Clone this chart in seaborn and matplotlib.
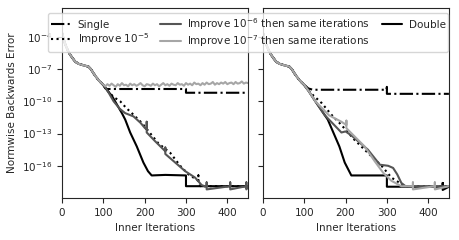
import numpy as np
import pandas as pd
import seaborn as sns
import matplotlib
matplotlib.use("Agg")
import matplotlib.pyplot as plt
from matplotlib.ticker import NullLocator

# shared start of every run (log10 of the error)
init_it = [0, 4, 8, 14, 20, 26, 32, 40, 48, 56, 64, 70, 76, 82, 88, 94, 100]
init_err = [-3.6, -4.2, -4.7, -5.25, -5.67, -6.0, -6.3, -6.5, -6.6, -6.68, -6.76,
            -7.0, -7.37, -7.7, -8.0, -8.25, -8.45]

labels = ["Single", "Improve $10^{-5}$", "Improve $10^{-6}$ then same iterations",
          "Improve $10^{-7}$ then same iterations", "Double"]

# left panel
l_single_it = [105, 110, 200, 300, 300, 450]
l_single_err = [-8.8, -8.85, -8.85, -8.85, -9.2, -9.2]

l_imp5_it = [110, 125, 141, 155, 169, 193, 213, 233, 262, 286, 306, 330, 330, 330, 335, 450]
l_imp5_err = [-9.0, -9.6, -10.0, -10.6, -11.1, -12.0, -12.95, -13.9, -14.8, -16.0, -16.8,
              -17.4, -16.9, -17.5, -17.9, -17.9]

l_imp6_it = [110, 125, 140, 153, 173, 190, 201, 205, 205, 205, 225, 250, 250, 250, 274,
             298, 322, 338, 345, 350, 350, 350, 407, 407, 407, 446, 446, 446, 450]
l_imp6_err = [-9.0, -10.0, -10.7, -11.1, -11.4, -12.0, -12.5, -12.6, -11.9, -12.9, -13.7,
              -14.65, -14.3, -14.9, -15.7, -16.5, -17.1, -17.8, -17.9, -17.9, -17.55,
              -18.2, -17.9, -17.55, -18.2, -17.9, -17.55, -18.2, -17.9]

l_imp7_err = [-8.45, -8.6, -8.4, -8.55, -8.35, -8.5, -8.65, -8.4, -8.55, -8.3, -8.5, -8.45,
              -8.6, -8.35, -8.5, -8.4, -8.55, -8.45, -8.3, -8.5, -8.6, -8.4, -8.45, -8.55,
              -8.35, -8.5, -8.4, -8.6, -8.45, -8.3, -8.5, -8.4, -8.55, -8.35, -8.45, -8.5,
              -8.3, -8.45, -8.4, -8.55, -8.3, -8.45, -8.35, -8.5, -8.25, -8.4, -8.35, -8.5,
              -8.3, -8.45, -8.25, -8.4, -8.35, -8.2, -8.45, -8.3, -8.4, -8.25, -8.35, -8.2,
              -8.4, -8.3, -8.25, -8.4, -8.2, -8.35, -8.3, -8.15, -8.35, -8.25, -8.3]
l_imp7_it = list(np.linspace(100, 450, len(l_imp7_err)))

l_double_it = [100, 110, 121, 133, 145, 153, 165, 181, 197, 208, 217, 250, 300, 300, 450]
l_double_err = [-8.5, -9.0, -9.5, -10.3, -11.1, -11.7, -12.9, -14.2, -15.7, -16.5, -16.9,
                -16.85, -16.9, -17.9, -17.9]

# right panel
r_single_it = [110, 121, 299, 300, 300, 300, 450]
r_single_err = [-8.8, -8.92, -8.92, -8.65, -9.1, -9.3, -9.3]

r_imp5_it = [115, 142, 166, 190, 222, 254, 287, 311, 331, 340, 450]
r_imp5_err = [-9.2, -10.15, -11.25, -12.2, -13.6, -14.8, -16.0, -17.1, -17.6, -17.9, -17.9]

r_imp6_it = [112, 127, 150, 175, 190, 200, 215, 254, 283, 303, 315, 325, 335, 345, 450]
r_imp6_err = [-9.1, -10.0, -11.3, -12.3, -12.9, -12.8, -13.2, -14.5, -15.9, -16.0, -16.2,
              -16.8, -17.6, -17.9, -17.9]

r_imp7_it = [112, 127, 160, 190, 202, 202, 202, 246, 271, 291, 311, 335, 363, 363, 363,
             416, 416, 416, 450]
r_imp7_err = [-9.1, -10.0, -11.3, -11.9, -12.2, -11.8, -12.5, -14.2, -15.6, -16.65, -17.4,
              -17.9, -17.9, -17.55, -18.2, -17.9, -17.55, -18.2, -17.9]

r_double_it = [100, 110, 127, 157, 185, 198, 214, 300, 300, 435, 435, 435, 450]
r_double_err = [-8.5, -9.0, -10.0, -11.7, -14.2, -15.7, -16.9, -16.9, -17.95, -17.95,
                -17.6, -18.25, -17.95]

styles = [
    dict(color="black", linestyle="-."),
    dict(color="black", linestyle=":"),
    dict(color="#555555", linestyle="-"),
    dict(color="#a6a6a6", linestyle="-"),
    dict(color="black", linestyle="-"),
]

panels = [
    [(l_single_it, l_single_err), (l_imp5_it, l_imp5_err), (l_imp6_it, l_imp6_err),
     (l_imp7_it, l_imp7_err), (l_double_it, l_double_err)],
    [(r_single_it, r_single_err), (r_imp5_it, r_imp5_err), (r_imp6_it, r_imp6_err),
     (r_imp7_it, r_imp7_err), (r_double_it, r_double_err)],
]

sns.set_style("ticks")
plt.rcParams["font.family"] = ["DejaVu Sans"]
plt.rcParams["font.size"] = 7.5

fig, axes = plt.subplots(1, 2, figsize=(4.59, 2.4), dpi=100, sharey=True)
fig.subplots_adjust(left=0.135, right=0.978, bottom=0.175, top=0.967, wspace=0.08)

draw_order = [0, 1, 4, 2, 3]
for ax, series in zip(axes, panels):
    for i in draw_order:
        it, err = series[i]
        if it[0] > 0:
            # runs share the same first iterations
            start = [k for k in range(len(init_it)) if init_it[k] < it[0]]
            it = [init_it[k] for k in start] + list(it)
            err = [init_err[k] for k in start] + list(err)
        df = pd.DataFrame({"it": it, "err": 10.0 ** np.array(err)})
        sns.lineplot(data=df, x="it", y="err", ax=ax, estimator=None, sort=False,
                     lw=1.5, label=labels[i], legend=False, **styles[i])
    ax.set_yscale("log")
    ax.set_xlim(0, 450)
    ax.set_ylim(1e-19, 10 ** -1.3)
    ax.set_yticks([1e-4, 1e-7, 1e-10, 1e-13, 1e-16])
    ax.yaxis.set_minor_locator(NullLocator())
    ax.set_xticks([0, 100, 200, 300, 400])
    ax.set_xlabel("Inner Iterations")
    ax.tick_params(labelsize=7.5)

axes[0].set_ylabel("Normwise Backwards Error")
axes[1].set_ylabel("")
axes[1].tick_params(labelleft=False)

h, l = axes[0].get_legend_handles_labels()
order = [l.index(lab) for lab in labels]
fig.legend([h[k] for k in order], [l[k] for k in order], loc="upper right",
           bbox_to_anchor=(0.988, 0.966), ncol=3, fontsize=7.5, handlelength=2.0,
           columnspacing=1.1, borderpad=0.25, labelspacing=0.15, handletextpad=0.6)

fig.savefig("out.png", dpi=100)
